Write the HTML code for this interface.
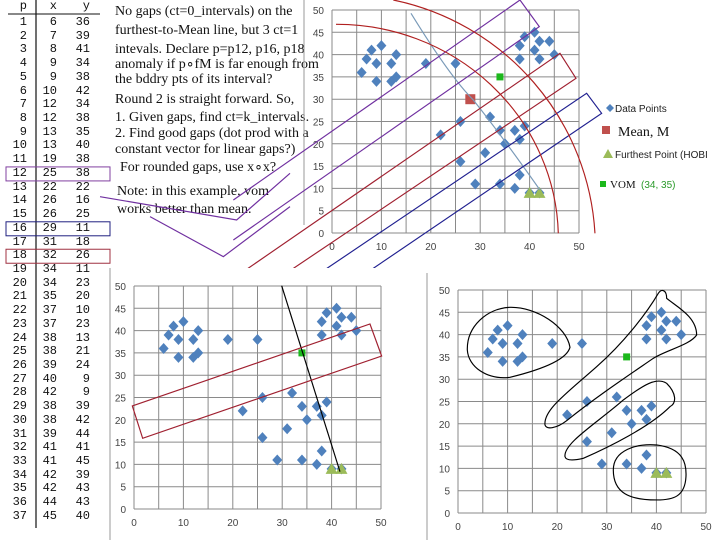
<!DOCTYPE html>
<html><head><meta charset="utf-8">
<style>
html,body{margin:0;padding:0;background:#fff;}
#wrap{position:relative;width:720px;height:540px;overflow:hidden;font-family:"Liberation Sans",sans-serif;}
.note{position:absolute;left:115px;font-family:"Liberation Serif",serif;font-size:14px;color:#111;white-space:nowrap;line-height:16px;}
.tbl{position:absolute;font-family:"Liberation Mono",monospace;font-size:12px;color:#111;text-align:right;}
</style></head>
<body>
<div id="wrap">
<div id="table"></div>
<div class="note" style="top:4px">No gaps (ct=0_intervals) on the</div>
<div class="note" style="top:23px">furthest-to-Mean line, but 3 ct=1</div>
<div class="note" style="top:42px">intevals. Declare p=p12, p16, p18</div>
<div class="note" style="top:57px">anomaly if p∘fM is far enough from</div>
<div class="note" style="top:72px">the bddry pts of its interval?</div>
<div class="note" style="top:92px">Round 2 is straight forward. So,</div>
<div class="note" style="top:110px">1. Given gaps, find ct=k_intervals.</div>
<div class="note" style="top:126px">2. Find good gaps (dot prod with a</div>
<div class="note" style="top:142px">constant vector for linear gaps?)</div>
<div class="note" style="top:160px;left:120px">For rounded gaps, use x∘x?</div>
<div class="note" style="top:184px;left:117px">Note: in this example, vom</div>
<div class="note" style="top:202px;left:117px">works better than mean.</div>
<svg id="svg" width="720" height="540" style="position:absolute;left:0;top:0"><defs><clipPath id="topclip"><rect x="0" y="0" width="720" height="268"/></clipPath></defs></svg>
</div>
<script>
const px = [6,7,8,9,9,10,12,12,13,13,19,25,22,26,26,29,31,32,34,34,35,37,37,38,38,39,40,42,38,38,39,41,41,42,42,44,45];
const py = [36,39,41,34,38,42,34,38,35,40,38,38,22,16,25,11,18,26,11,23,20,10,23,13,21,24,9,9,39,42,44,41,45,39,43,43,40];
const meanPt = [28,30];
const vomPt = [34,35];
const furthestX = [40,42];
const furthestY = [9,9];
const ticks = [0,5,10,15,20,25,30,35,40,45,50];
const xLabels = [0,10,20,30,40,50];

const NS='http://www.w3.org/2000/svg';
const svg=document.getElementById('svg');
function mk(tag,attrs,parent){const e=document.createElementNS(NS,tag);for(const k in attrs)e.setAttribute(k,attrs[k]);(parent||svg).appendChild(e);return e;}

const tb=document.getElementById('table');
function cell(txt,x,y,name){const d=document.createElement('div');d.className='tbl';d.style.left=(x-30)+'px';d.style.top=(y-7)+'px';d.style.width='30px';d.textContent=txt;


tb.appendChild(d);}
cell('p',27,6,'header-p');cell('x',57,6,'header-x');cell('y',90,6,'header-y');
const rowY=i=>22+i*13.72;
for(let i=0;i<px.length;i++){const y=rowY(i);cell(String(i+1),27,y,'row-p');cell(String(px[i]),57,y,'row-x');cell(String(py[i]),90,y,'row-y');}
mk('line',{x1:8,y1:14,x2:100,y2:14,stroke:'#111','stroke-width':1});
mk('line',{x1:36,y1:0,x2:36,y2:528,stroke:'#111','stroke-width':1.2});
mk('rect',{x:6,y:rowY(11)-6,width:104,height:14,fill:'none',stroke:'#8040a0','stroke-width':1});
mk('rect',{x:6,y:rowY(15)-6,width:104,height:14,fill:'none',stroke:'#202080','stroke-width':1});
mk('rect',{x:6,y:rowY(17)-6,width:104,height:14,fill:'none',stroke:'#a03040','stroke-width':1});
mk('line',{x1:110,y1:268,x2:110,y2:540,stroke:'#999'});
mk('line',{x1:427,y1:273,x2:427,y2:540,stroke:'#999'});
mk('line',{x1:304,y1:0,x2:304,y2:225,stroke:'#999'});

function chart(name,X0,X1,YB,YT){
  const g=mk('g',{});
  
  
  const sx=v=>X0+(X1-X0)*v/50, sy=v=>YB-(YB-YT)*v/50;
  ticks.forEach(t=>{
    const gl=mk('line',{x1:X0,x2:X1,y1:sy(t),y2:sy(t),stroke:'#8a8a8a','stroke-width':1},g);
    
    
    const vl=mk('line',{x1:sx(t),x2:sx(t),y1:YT,y2:YB,stroke:'#8a8a8a','stroke-width':1},g);
    
    
    const tl=mk('text',{x:X0-8,y:sy(t)+4,'text-anchor':'end','font-size':10,fill:'#444','font-family':'Liberation Sans, sans-serif'},g);tl.textContent=t;
    
    
  });
  xLabels.forEach(t=>{const tl=mk('text',{x:sx(t),y:YB+17,'text-anchor':'middle','font-size':10,fill:'#444','font-family':'Liberation Sans, sans-serif'},g);tl.textContent=t;
    
    });
  for(let i=0;i<px.length;i++){const x=sx(px[i]),y=sy(py[i]);
    const d=mk('path',{d:`M${x} ${y-5.5}L${x+5} ${y}L${x} ${y+5.5}L${x-5} ${y}Z`,fill:'#4f81bd'},g);
    
    }
  for(let i=0;i<furthestX.length;i++){const x=sx(furthestX[i]),y=sy(furthestY[i]);
    const t=mk('path',{d:`M${x} ${y-6}L${x+6} ${y+5}L${x-6} ${y+5}Z`,fill:'#9bbb59'},g);
    
    }
  const v=mk('rect',{x:sx(vomPt[0])-3.5,y:sy(vomPt[1])-3.5,width:7,height:7,fill:'#1cb81c'},g);
  
  
  return {g,sx,sy};
}
const topC=chart('top-chart',332,579,233,10);
const m=mk('rect',{x:topC.sx(meanPt[0])-5,y:topC.sy(meanPt[1])-5,width:10,height:10,fill:'#c0504d'},topC.g);


const blC=chart('bottom-left-chart',134,381,509,286);
const brC=chart('bottom-right-chart',458,706,513,290);

const a0=mk('g',{'clip-path':'url(#topclip)'});
const a1=mk('g',{transform:'translate(300,0) scale(0.3333)',fill:'none','stroke-width':3.5},a0);


mk('path',{d:'M333 40 Q450 230 520 300 Q600 400 720 570',stroke:'#7a9ab8'},a1);
mk('path',{d:'M-200 600 L660 0 L718 80 L-200 720',stroke:'#7030a0'},a1);
mk('path',{d:'M-250 870 L780 160 L828 235 L-250 960',stroke:'#a02030'},a1);
mk('path',{d:'M-60 900 L860 280 L905 340 L80 900',stroke:'#202090'},a1);
mk('path',{d:'M108 73 A665 645 0 0 1 775 700',stroke:'#b02020'},a1);
mk('path',{d:'M280 0 A760 760 0 0 1 885 700',stroke:'#b02020'},a1);
mk('path',{d:'M-30 520 L-190 660 L-600 590',stroke:'#7030a0'},a1);
mk('path',{d:'M-30 620 L-230 770 L-450 650',stroke:'#7030a0'},a1);

const a2=mk('g',{transform:'translate(105,270) scale(0.3333)',fill:'none','stroke-width':3.5});


mk('path',{d:'M530 47 L705 605',stroke:'#000'},a2);
mk('path',{d:'M82 408 L795 162 L830 258 L113 505 Z',stroke:'#a02030'},a2);

const a3=mk('g',{transform:'translate(410,270) scale(0.3333)',fill:'none','stroke-width':3.5,stroke:'#000'});


mk('path',{d:'M172 240 C170 170 230 115 300 112 C380 110 470 170 480 232 C470 270 390 300 300 322 C230 330 175 290 172 240 Z'},a3);
mk('path',{d:'M405 465 C400 420 470 370 560 290 C640 220 710 130 745 70 C755 55 770 60 770 85 C800 110 860 140 860 195 C840 225 770 240 730 265 C650 320 560 380 470 452 C440 475 410 480 405 465 Z'},a3);
mk('path',{d:'M465 560 C460 520 560 460 640 390 C700 345 740 320 770 340 C800 370 800 400 780 410 C720 470 600 530 520 565 C490 572 468 572 465 560 Z'},a3);
mk('path',{d:'M610 600 C610 540 680 520 740 525 C820 535 830 580 828 620 C825 680 790 690 740 690 C660 690 610 670 610 600 Z'},a3);

const lg=mk('g',{});


mk('path',{d:'M610 104L614 108L610 112L606 108Z',fill:'#4f81bd'},lg);
let t=mk('text',{x:615,y:112,'font-size':10,fill:'#222'},lg);t.textContent='Data Points';
mk('rect',{x:602,y:126,width:8,height:8,fill:'#c0504d'},lg);
t=mk('text',{x:618,y:136,'font-size':14,fill:'#111','font-family':'Liberation Serif, serif'},lg);t.textContent='Mean, M';
mk('path',{d:'M608 149L613 158L603 158Z',fill:'#9bbb59'},lg);
t=mk('text',{x:615,y:158,'font-size':10,fill:'#222'},lg);t.textContent='Furthest Point (HOBI';
mk('rect',{x:600,y:181,width:6,height:6,fill:'#1cb81c'},lg);
t=mk('text',{x:610,y:188,'font-size':11,fill:'#111','font-family':'Liberation Serif, serif'},lg);t.textContent='VOM ';
t=mk('text',{x:641,y:188,'font-size':10,fill:'#2a9a2a'},lg);t.textContent='(34, 35)';
</script>
</body></html>
